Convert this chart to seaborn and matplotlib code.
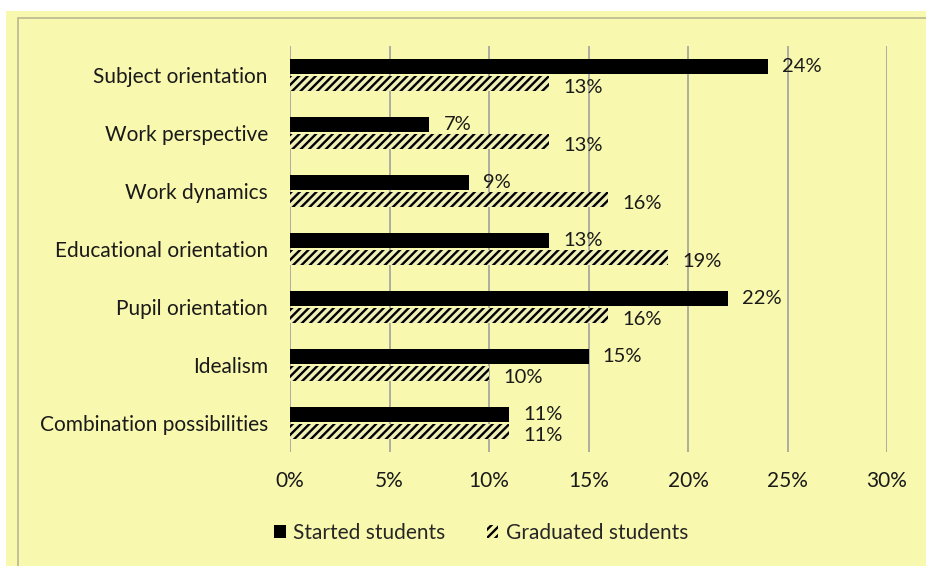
import pandas as pd
import matplotlib.pyplot as plt
import seaborn as sns
from matplotlib.patches import Patch, Rectangle
from matplotlib.ticker import PercentFormatter

categories = ["Subject orientation", "Work perspective", "Work dynamics",
              "Educational orientation", "Pupil orientation", "Idealism",
              "Combination possibilities"]
started = [24, 7, 9, 13, 22, 15, 11]
graduated = [13, 13, 16, 19, 16, 10, 11]
series = ["Started students", "Graduated students"]
xticks = [0, 5, 10, 15, 20, 25, 30]

bg = "#f8f8ae"
fs = 15

df = pd.DataFrame({
    "category": categories * 2,
    "value": started + graduated,
    "group": [series[0]] * len(categories) + [series[1]] * len(categories),
})

sns.set_style("white")
plt.rcParams["font.family"] = ["Lato", "DejaVu Sans"]
plt.rcParams["hatch.linewidth"] = 1.7

fig = plt.figure(figsize=(9.26, 5.66), dpi=100)
fig.patch.set_facecolor("white")
# yellow panel with thin gray frame like the original chart area
fig.patches.append(Rectangle((6 / 926, 0), 1, 1 - 11 / 566, transform=fig.transFigure,
                             facecolor=bg, edgecolor="none", zorder=-2))
fig.patches.append(Rectangle((18 / 926, -0.01), 1, 1 - 18 / 566 + 0.01, transform=fig.transFigure,
                             facecolor="none", edgecolor="#b8b890", linewidth=1.2, zorder=-1))

ax = fig.add_axes([290 / 926, 1 - 452 / 566, (887 - 290) / 926, (452 - 46) / 566])
ax.set_facecolor("none")
ax.set_zorder(2)

sns.barplot(data=df, y="category", x="value", hue="group", hue_order=series,
            orient="h", width=0.57, gap=0.1, palette=["black", bg],
            legend=False, ax=ax, zorder=3)

n = len(categories)
for i, p in enumerate(ax.patches[:2 * n]):
    p.set_linewidth(0)
    dy = -0.01
    if i >= n:
        p.set_hatch("////")
        p.set_edgecolor("black")
        dy = 0.07
    w = p.get_width()
    y = p.get_y() + p.get_height() / 2
    ax.text(w + 0.72, y + dy, f"{w:.0f}%", va="center", ha="left", fontsize=14.5,
            color="#1a1a1a", zorder=5)

ax.set_xlim(0, 30)
ax.set_ylim(n - 0.5, -0.5)
ax.set_xticks(xticks)
ax.xaxis.set_major_formatter(PercentFormatter(decimals=0))
ax.grid(axis="x", color="#a8a8a0", linewidth=1.3, zorder=0)
ax.set_axisbelow(True)
for s in ax.spines.values():
    s.set_visible(False)
ax.tick_params(axis="both", length=0, labelsize=fs, colors="#1a1a1a")
ax.tick_params(axis="y", pad=16)
ax.tick_params(axis="x", pad=14)
ax.set_xlabel("")
ax.set_ylabel("")

handles = [Patch(facecolor="black", edgecolor="none", label=series[0]),
           Patch(facecolor=bg, edgecolor="black", linewidth=0, hatch="////", label=series[1])]
fig.legend(handles=handles, loc="center", bbox_to_anchor=(481 / 926, 1 - 533 / 566),
           ncol=2, frameon=False, fontsize=fs, handlelength=0.55, handleheight=0.55,
           handletextpad=0.35, columnspacing=2.0)

fig.savefig("out.png", dpi=100, facecolor=fig.get_facecolor())
